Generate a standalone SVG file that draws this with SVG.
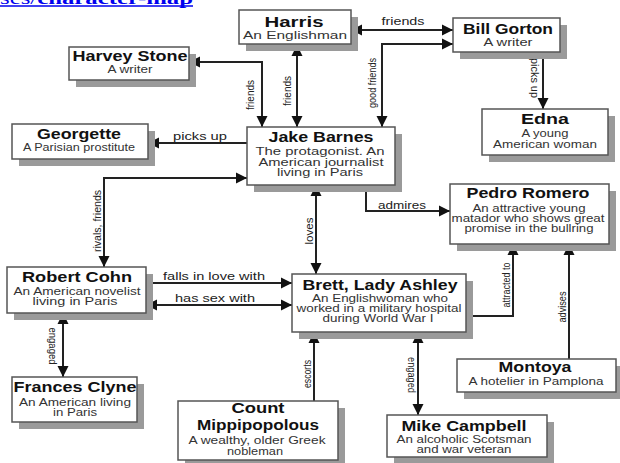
<svg xmlns="http://www.w3.org/2000/svg" width="620" height="463" viewBox="0 0 620 463">
<defs>
<style>
.sh{fill:#9a9a9a}
.bx{fill:#fff;stroke:#555;stroke-width:1.5}
.t{font-family:"Liberation Sans",Arial,sans-serif;font-weight:bold;font-size:15px;fill:#111;text-anchor:middle}
.s{font-family:"Liberation Sans",Arial,sans-serif;font-size:10px;fill:#333;text-anchor:middle}
.l{font-family:"Liberation Sans",Arial,sans-serif;font-size:11px;fill:#222;text-anchor:middle}
.c{fill:none;stroke:#222;stroke-width:2}
.ab{marker-start:url(#ah);marker-end:url(#ah)}
.ae{marker-end:url(#ah)}
.lnk{font-family:"Liberation Serif","Times New Roman",serif;font-size:16px;fill:#0000ee}
</style>
<marker id="ah" viewBox="0 0 10 10" refX="10" refY="5" markerWidth="11" markerHeight="12" markerUnits="userSpaceOnUse" orient="auto-start-reverse">
<path d="M0,0 L10,5 L0,10 z" fill="#111"/>
</marker>
</defs>
<rect width="620" height="463" fill="#fff"/>
<g id="link">
<text class="lnk" x="0" y="4" textLength="193" lengthAdjust="spacingAndGlyphs">ses/<tspan font-weight="bold">character-map</tspan></text>
<line x1="0" y1="6" x2="193" y2="6" stroke="#0000ee" stroke-width="1.5"/>
</g>
<g id="connectors">
<path class="c ab" d="M297,45 V127"/>
<path class="c ab" d="M262,127 V62 H189"/>
<path class="c ab" d="M351,30 H453"/>
<path class="c ab" d="M382,127 V44 H453"/>
<path class="c ae" d="M543,52 V109"/>
<path class="c ae" d="M247,143 H148"/>
<path class="c ab" d="M247,178 H104 V267"/>
<path class="c ab" d="M316,185 V274"/>
<path class="c ae" d="M366,185 V211 H450"/>
<path class="c ae" d="M466,316 H513 V244"/>
<path class="c ae" d="M569,359 V244"/>
<path class="c ae" d="M146,283 H292"/>
<path class="c ab" d="M146,305 H292"/>
<path class="c ab" d="M63,313 V377"/>
<path class="c ae" d="M314,401 V332"/>
<path class="c ab" d="M418,332 V415"/>
<text class="l" x="403" y="25" textLength="43" lengthAdjust="spacingAndGlyphs">friends</text>
<text class="l" x="200" y="140" textLength="54" lengthAdjust="spacingAndGlyphs">picks up</text>
<text class="l" x="402" y="209" textLength="48" lengthAdjust="spacingAndGlyphs">admires</text>
<text class="l" x="214" y="280" textLength="102" lengthAdjust="spacingAndGlyphs">falls in love with</text>
<text class="l" x="215" y="302" textLength="80" lengthAdjust="spacingAndGlyphs">has sex with</text>
<text class="l" transform="translate(254,95) rotate(-90)" textLength="30" lengthAdjust="spacingAndGlyphs">friends</text>
<text class="l" transform="translate(291,91) rotate(-90)" textLength="30" lengthAdjust="spacingAndGlyphs">friends</text>
<text class="l" transform="translate(376,83) rotate(-90)" textLength="50" lengthAdjust="spacingAndGlyphs">good friends</text>
<text class="l" transform="translate(101,221) rotate(-90)" textLength="62" lengthAdjust="spacingAndGlyphs">rivals, friends</text>
<text class="l" transform="translate(313,231) rotate(-90)" textLength="27" lengthAdjust="spacingAndGlyphs">loves</text>
<text class="l" transform="translate(510,285) rotate(-90)" textLength="45" lengthAdjust="spacingAndGlyphs">attracted to</text>
<text class="l" transform="translate(566,307) rotate(-90)" textLength="31" lengthAdjust="spacingAndGlyphs">advises</text>
<text class="l" transform="translate(311,374) rotate(-90)" textLength="28" lengthAdjust="spacingAndGlyphs">escorts</text>
<text class="l" transform="translate(531,78) rotate(90)" textLength="40" lengthAdjust="spacingAndGlyphs">picks up</text>
<text class="l" transform="translate(49,346) rotate(90)" textLength="37" lengthAdjust="spacingAndGlyphs">engaged</text>
<text class="l" transform="translate(408,375) rotate(90)" textLength="36" lengthAdjust="spacingAndGlyphs">engaged</text>
</g>
<g id="harris">
<rect class="sh" x="246" y="17" width="112" height="34"/>
<rect class="bx" x="239" y="10" width="112" height="34"/>
<text class="t" x="294" y="27" textLength="59" lengthAdjust="spacingAndGlyphs">Harris</text>
<text class="s" x="295" y="39" textLength="104" lengthAdjust="spacingAndGlyphs">An Englishman</text>
</g>
<g id="bill-gorton">
<rect class="sh" x="460" y="25" width="107" height="34"/>
<rect class="bx" x="453" y="18" width="107" height="34"/>
<text class="t" x="508" y="34" textLength="90" lengthAdjust="spacingAndGlyphs">Bill Gorton</text>
<text class="s" x="508" y="46" textLength="49" lengthAdjust="spacingAndGlyphs">A writer</text>
</g>
<g id="harvey-stone">
<rect class="sh" x="76" y="54" width="120" height="33"/>
<rect class="bx" x="69" y="47" width="120" height="33"/>
<text class="t" x="130" y="61" textLength="115" lengthAdjust="spacingAndGlyphs">Harvey Stone</text>
<text class="s" x="130" y="73" textLength="45" lengthAdjust="spacingAndGlyphs">A writer</text>
</g>
<g id="edna">
<rect class="sh" x="489" y="116" width="126" height="46"/>
<rect class="bx" x="482" y="109" width="126" height="46"/>
<text class="t" x="545" y="124" font-size="17" textLength="48" lengthAdjust="spacingAndGlyphs">Edna</text>
<text class="s" x="545" y="137" textLength="47" lengthAdjust="spacingAndGlyphs">A young</text>
<text class="s" x="545" y="148" textLength="104" lengthAdjust="spacingAndGlyphs">American woman</text>
</g>
<g id="georgette">
<rect class="sh" x="19" y="131" width="136" height="35"/>
<rect class="bx" x="12" y="124" width="136" height="35"/>
<text class="t" x="79" y="139" textLength="84" lengthAdjust="spacingAndGlyphs">Georgette</text>
<text class="s" x="79" y="151" textLength="112" lengthAdjust="spacingAndGlyphs">A Parisian prostitute</text>
</g>
<g id="jake-barnes">
<rect class="sh" x="254" y="134" width="148" height="58"/>
<rect class="bx" x="247" y="127" width="148" height="58"/>
<text class="t" x="321" y="142" textLength="105" lengthAdjust="spacingAndGlyphs">Jake Barnes</text>
<text class="s" x="320" y="155" textLength="129" lengthAdjust="spacingAndGlyphs">The protagonist. An</text>
<text class="s" x="321" y="166" textLength="125" lengthAdjust="spacingAndGlyphs">American journalist</text>
<text class="s" x="320" y="176" textLength="86" lengthAdjust="spacingAndGlyphs">living in Paris</text>
</g>
<g id="pedro-romero">
<rect class="sh" x="457" y="191" width="159" height="60"/>
<rect class="bx" x="450" y="184" width="159" height="60"/>
<text class="t" x="528" y="198" textLength="123" lengthAdjust="spacingAndGlyphs">Pedro Romero</text>
<text class="s" x="529" y="212" textLength="113" lengthAdjust="spacingAndGlyphs">An attractive young</text>
<text class="s" x="528" y="222" textLength="153" lengthAdjust="spacingAndGlyphs">matador who shows great</text>
<text class="s" x="529" y="232" textLength="129" lengthAdjust="spacingAndGlyphs">promise in the bullring</text>
</g>
<g id="robert-cohn">
<rect class="sh" x="14" y="274" width="139" height="46"/>
<rect class="bx" x="7" y="267" width="139" height="46"/>
<text class="t" x="77" y="282" textLength="110" lengthAdjust="spacingAndGlyphs">Robert Cohn</text>
<text class="s" x="77" y="295" textLength="127" lengthAdjust="spacingAndGlyphs">An American novelist</text>
<text class="s" x="75" y="305" textLength="85" lengthAdjust="spacingAndGlyphs">living in Paris</text>
</g>
<g id="brett">
<rect class="sh" x="299" y="281" width="174" height="58"/>
<rect class="bx" x="292" y="274" width="174" height="58"/>
<text class="t" x="380" y="290" textLength="155" lengthAdjust="spacingAndGlyphs">Brett, Lady Ashley</text>
<text class="s" x="380" y="302" textLength="136" lengthAdjust="spacingAndGlyphs">An Englishwoman who</text>
<text class="s" x="379" y="312" textLength="165" lengthAdjust="spacingAndGlyphs">worked in a military hospital</text>
<text class="s" x="378" y="322" textLength="111" lengthAdjust="spacingAndGlyphs">during World War I</text>
</g>
<g id="frances-clyne">
<rect class="sh" x="19" y="384" width="125" height="45"/>
<rect class="bx" x="12" y="377" width="125" height="45"/>
<text class="t" x="75" y="392" textLength="123" lengthAdjust="spacingAndGlyphs">Frances Clyne</text>
<text class="s" x="75" y="406" textLength="112" lengthAdjust="spacingAndGlyphs">An American living</text>
<text class="s" x="75" y="416" textLength="44" lengthAdjust="spacingAndGlyphs">in Paris</text>
</g>
<g id="count">
<rect class="sh" x="185" y="408" width="160" height="59"/>
<rect class="bx" x="178" y="401" width="160" height="59"/>
<text class="t" x="258" y="413" font-size="12" textLength="53" lengthAdjust="spacingAndGlyphs">Count</text>
<text class="t" x="258" y="430" font-size="12" textLength="122" lengthAdjust="spacingAndGlyphs">Mippipopolous</text>
<text class="s" x="257" y="444" textLength="137" lengthAdjust="spacingAndGlyphs">A wealthy, older Greek</text>
<text class="s" x="255" y="455" textLength="56" lengthAdjust="spacingAndGlyphs">nobleman</text>
</g>
<g id="montoya">
<rect class="sh" x="464" y="366" width="159" height="33"/>
<rect class="bx" x="457" y="359" width="159" height="33"/>
<text class="t" x="535" y="372" textLength="73" lengthAdjust="spacingAndGlyphs">Montoya</text>
<text class="s" x="536" y="385" textLength="135" lengthAdjust="spacingAndGlyphs">A hotelier in Pamplona</text>
</g>
<g id="mike-campbell">
<rect class="sh" x="394" y="422" width="160" height="42"/>
<rect class="bx" x="387" y="415" width="160" height="42"/>
<text class="t" x="464" y="431" textLength="125" lengthAdjust="spacingAndGlyphs">Mike Campbell</text>
<text class="s" x="464" y="443" textLength="135" lengthAdjust="spacingAndGlyphs">An alcoholic Scotsman</text>
<text class="s" x="464" y="453" textLength="95" lengthAdjust="spacingAndGlyphs">and war veteran</text>
</g>
</svg>
